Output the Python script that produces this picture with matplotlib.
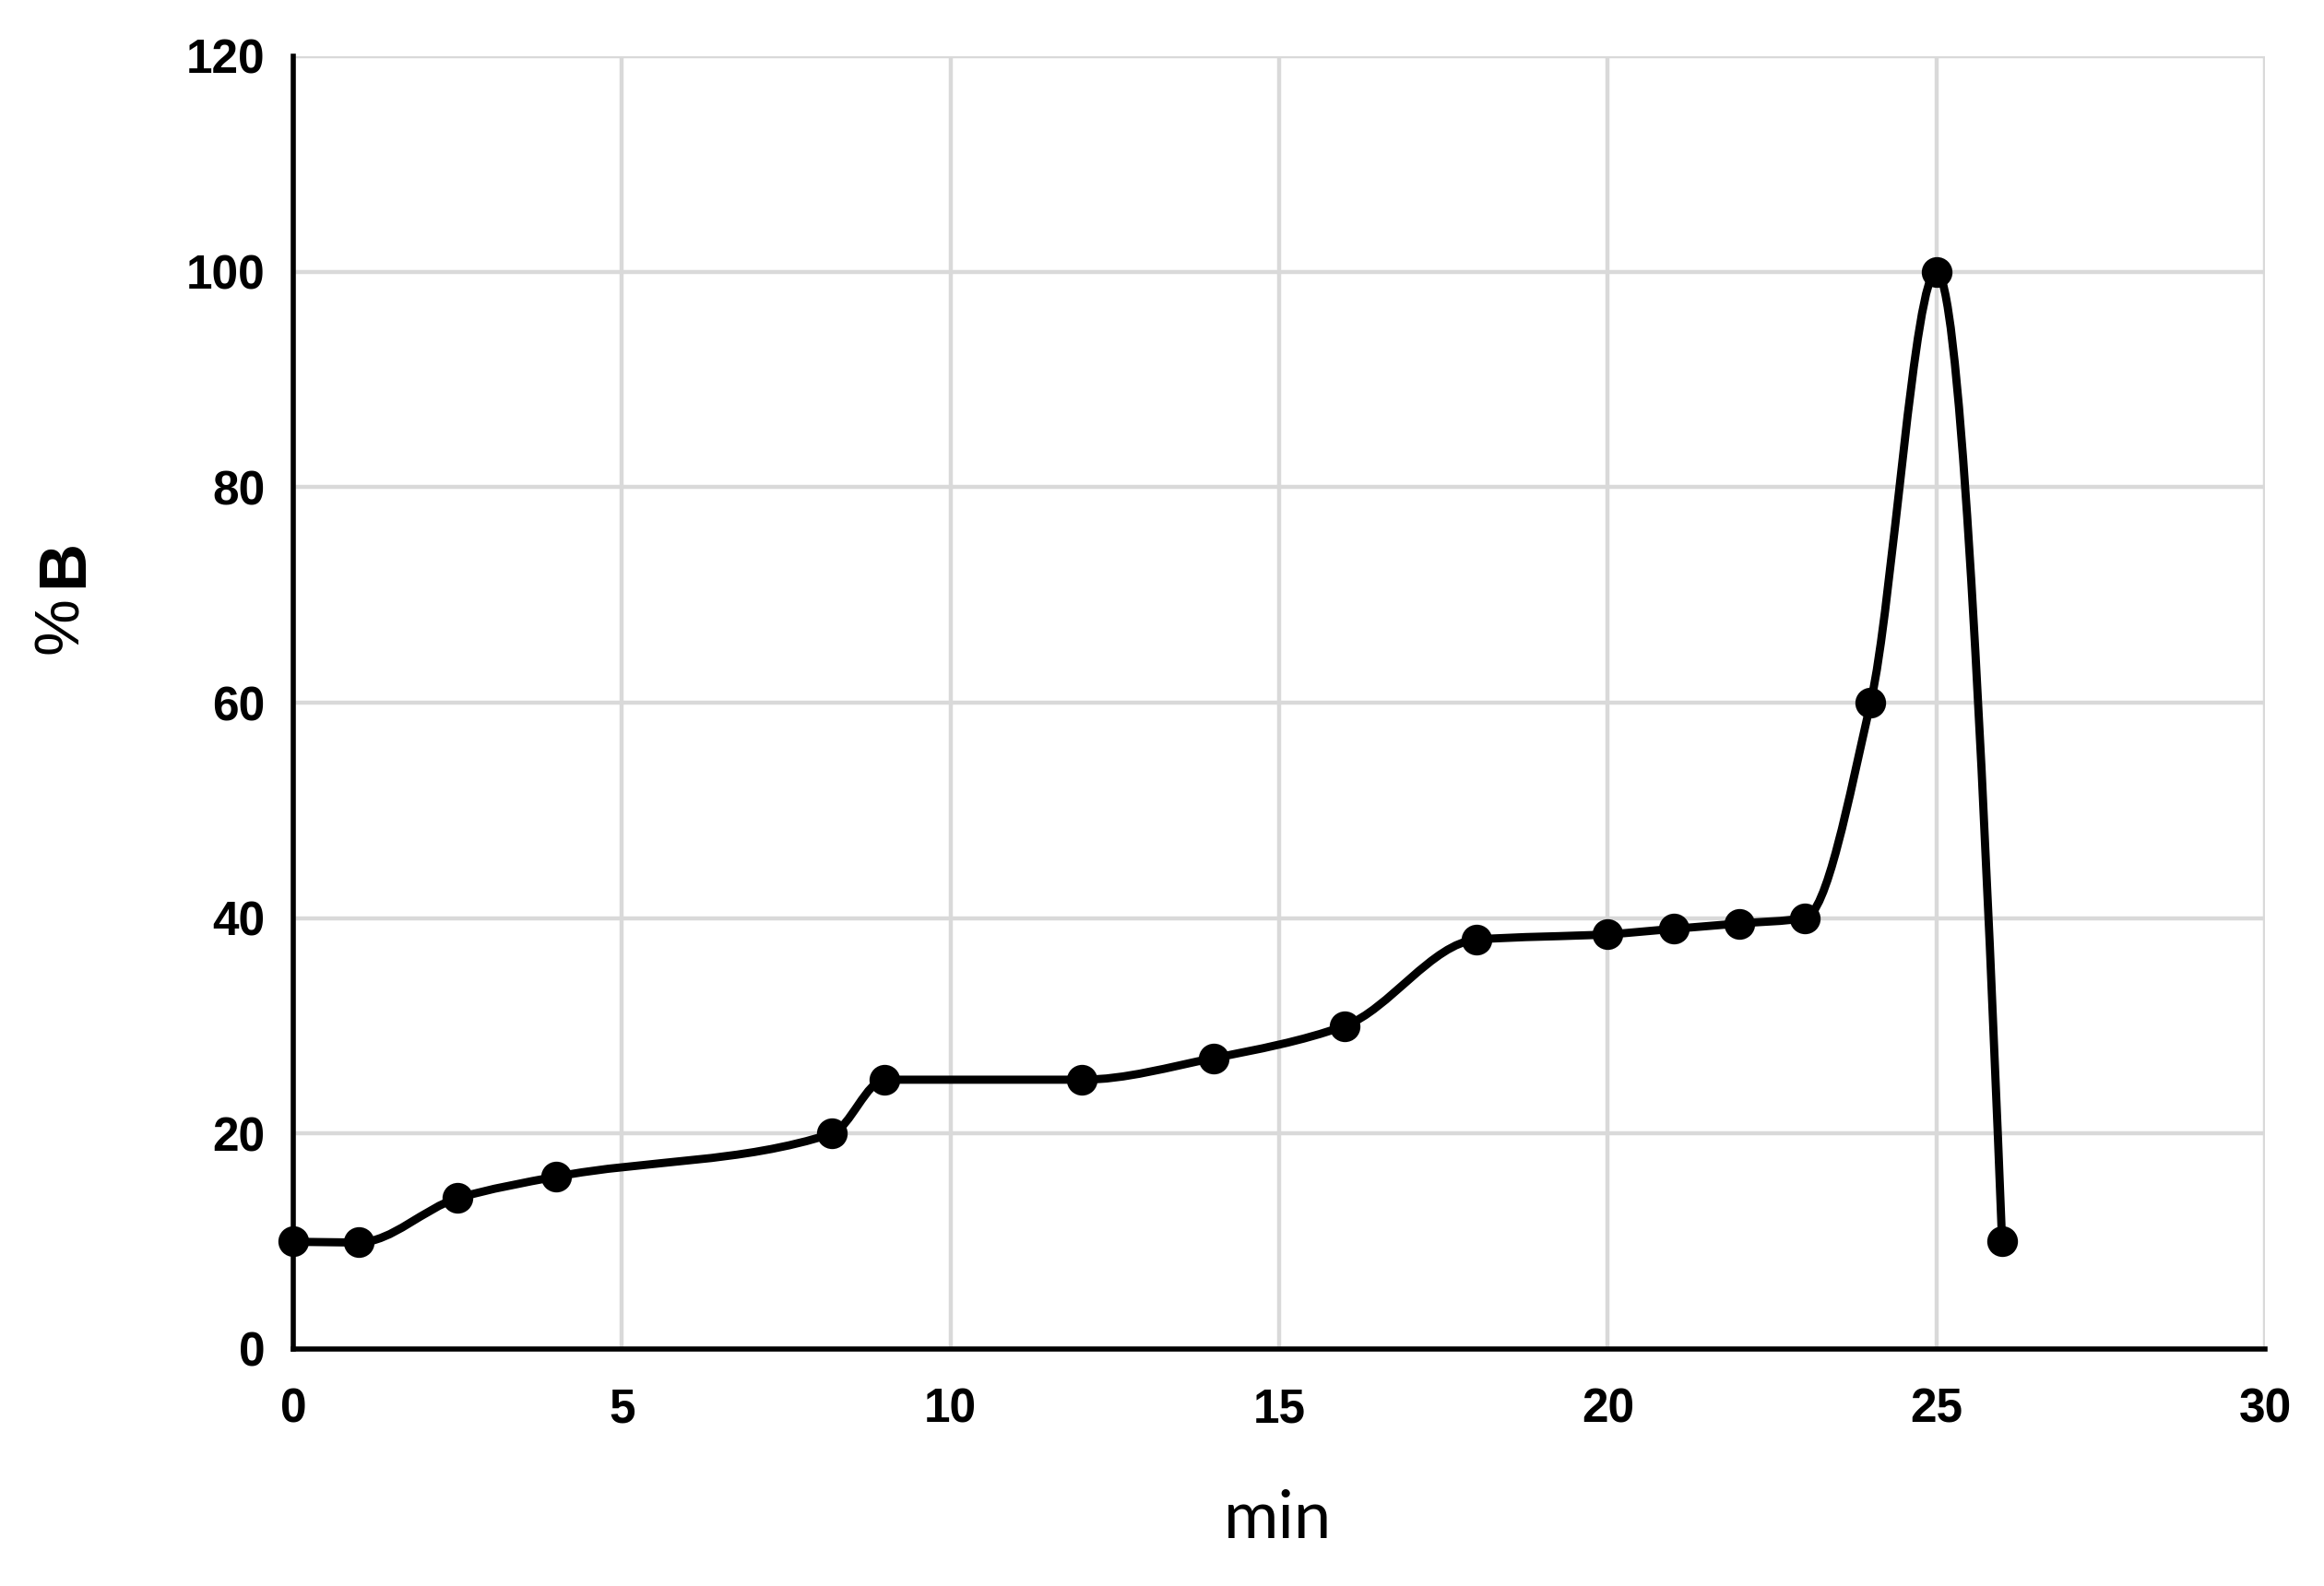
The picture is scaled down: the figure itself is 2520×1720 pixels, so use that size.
import numpy as np
import matplotlib
matplotlib.use("Agg")
import matplotlib.pyplot as plt
from matplotlib.path import Path
from matplotlib.patches import PathPatch

time_min = [0, 1, 2.5, 4, 8.2, 9, 12, 14, 16, 18, 20, 21, 22, 23, 24, 25, 26]
percent_b = [10, 9.9, 14, 16, 20, 25, 25, 27, 30, 38, 38.5, 39, 39.5, 40, 60, 100, 10]
x_ticks = [0, 5, 10, 15, 20, 25, 30]
y_ticks = [0, 20, 40, 60, 80, 100, 120]

plt.rcParams['font.family'] = ['Liberation Sans', 'DejaVu Sans']

fig = plt.figure(figsize=(12.6, 8.6), dpi=200)
ax = fig.add_axes([318/2520, 1 - 1463/1720, (2456-318)/2520, (1463-61)/1720])

ax.set_xlim(0, 30)
ax.set_ylim(0, 120)
ax.set_xticks(x_ticks)
ax.set_yticks(y_ticks)
ax.grid(True, color='#d9d9d9', linewidth=1.6)
ax.set_axisbelow(True)
for s in ['top', 'right']:
    ax.spines[s].set_visible(False)
for s in ['left', 'bottom']:
    ax.spines[s].set_linewidth(2.0)
    ax.spines[s].set_color('black')
ax.tick_params(length=0, labelsize=18.5)
ax.tick_params(axis='x', pad=15)
ax.tick_params(axis='y', pad=11)
for lab in ax.get_xticklabels() + ax.get_yticklabels():
    lab.set_fontweight('bold')

# Smoothed line: shape-preserving cubic Hermite (PCHIP-style tangents)
x = np.asarray(time_min, dtype=float)
y = np.asarray(percent_b, dtype=float)
h = np.diff(x)
d = np.diff(y) / h
n = len(x)
m = np.zeros(n)
for i in range(1, n - 1):
    if d[i - 1] * d[i] > 0:
        w1 = 2 * h[i] + h[i - 1]
        w2 = h[i] + 2 * h[i - 1]
        m[i] = (w1 + w2) / (w1 / d[i - 1] + w2 / d[i])
    else:
        m[i] = 0.0
def end_slope(h0, h1, d0, d1):
    s = ((2 * h0 + h1) * d0 - h0 * d1) / (h0 + h1)
    if np.sign(s) != np.sign(d0):
        s = 0.0
    elif np.sign(d0) != np.sign(d1) and abs(s) > abs(3 * d0):
        s = 3 * d0
    return s
m[0] = end_slope(h[0], h[1], d[0], d[1])
m[-1] = end_slope(h[-1], h[-2], d[-1], d[-2])

verts = [(x[0], y[0])]
codes = [Path.MOVETO]
for i in range(n - 1):
    c1 = (x[i] + h[i] / 3, y[i] + m[i] * h[i] / 3)
    c2 = (x[i + 1] - h[i] / 3, y[i + 1] - m[i + 1] * h[i] / 3)
    verts += [c1, c2, (x[i + 1], y[i + 1])]
    codes += [Path.CURVE4] * 3
ax.add_patch(PathPatch(Path(verts, codes), facecolor='none', edgecolor='black',
                       linewidth=3.2, zorder=3, clip_on=False))
ax.plot(time_min, percent_b, linestyle='none', marker='o', markersize=11,
        color='black', zorder=4, clip_on=False)

fig.text(1386/2520, 1 - 1648/1720, 'min', ha='center', va='center', fontsize=26,
         family=['Lato', 'DejaVu Sans'])
fig.text(70/2520, 1 - 611/1720, 'B', ha='center', va='center', fontsize=26,
         fontweight='bold', rotation=90)
fig.text(66/2520, 1 - 678/1720, '%', ha='center', va='center', fontsize=25,
         rotation=90)

fig.savefig('out.png', dpi=200, facecolor='white')
